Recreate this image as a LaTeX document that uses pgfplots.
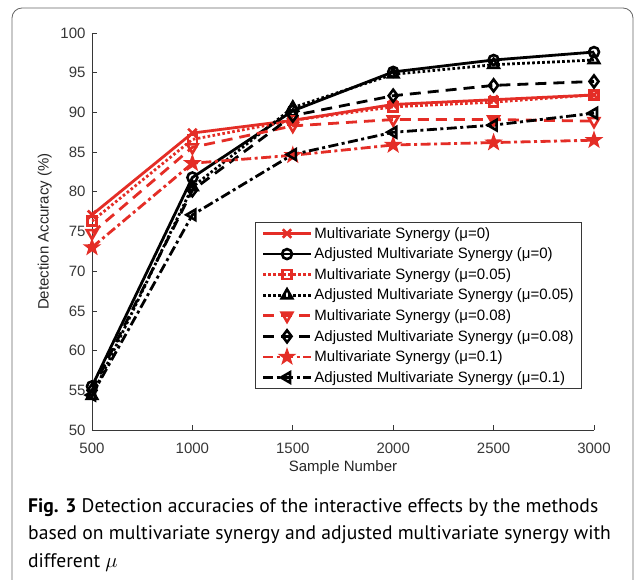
\documentclass[border=0pt]{standalone}
\usepackage{fontspec}
\setmainfont{Liberation Sans}
\newfontfamily\capfont{PT Sans}
\usepackage{pgfplots}
\pgfplotsset{compat=1.18}
\usetikzlibrary{plotmarks}
\definecolor{mred}{RGB}{228,45,38}
\definecolor{axgray}{RGB}{55,55,55}
\pgfdeclareplotmark{pentastar}{%
  \pgfpathmoveto{\pgfpointpolar{90}{1.25\pgfplotmarksize}}%
  \pgfpathlineto{\pgfpointpolar{126}{0.5\pgfplotmarksize}}%
  \pgfpathlineto{\pgfpointpolar{162}{1.25\pgfplotmarksize}}%
  \pgfpathlineto{\pgfpointpolar{198}{0.5\pgfplotmarksize}}%
  \pgfpathlineto{\pgfpointpolar{234}{1.25\pgfplotmarksize}}%
  \pgfpathlineto{\pgfpointpolar{270}{0.5\pgfplotmarksize}}%
  \pgfpathlineto{\pgfpointpolar{306}{1.25\pgfplotmarksize}}%
  \pgfpathlineto{\pgfpointpolar{342}{0.5\pgfplotmarksize}}%
  \pgfpathlineto{\pgfpointpolar{18}{1.25\pgfplotmarksize}}%
  \pgfpathlineto{\pgfpointpolar{54}{0.5\pgfplotmarksize}}%
  \pgfpathclose\pgfusepathqfillstroke}
\begin{document}
\begin{tikzpicture}[x=1pt,y=1pt]
\useasboundingbox (-92,-149) rectangle (545,430);
\draw[black!60, line width=0.8pt, rounded corners=10pt] (-80,-150) -- (-80,422) -- (541,422) -- (541,-150);
\begin{axis}[
  at={(0,0)}, anchor=south west,
  scale only axis, width=502pt, height=397pt,
  xmin=500, xmax=3000, ymin=50, ymax=100,
  xtick={500,1000,1500,2000,2500,3000},
  ytick={50,55,60,65,70,75,80,85,90,95,100},
  axis x line*=bottom, axis y line*=left,
  axis line style={axgray, line width=0.7pt},
  tick style={axgray, line width=0.7pt},
  tick align=inside, major tick length=5pt,
  font=\fontsize{15}{18}\selectfont,
  tick label style={text=axgray, font=\fontsize{15}{18}\selectfont},
  xticklabel style={yshift=-9pt},
  yticklabel style={xshift=-3pt},
  /pgf/number format/assume math mode=true,
  /pgf/number format/1000 sep={},
  xlabel={Sample Number}, ylabel={Detection Accuracy (\%)},
  xlabel style={at={(axis description cs:0.5,-0.095)}, anchor=center, text=black!85},
  ylabel style={at={(axis description cs:-0.094,0.5)}, anchor=center, text=black!85},
  legend style={at={(axis description cs:0.976,0.524)}, anchor=north east, draw=axgray, line width=0.7pt,
    font=\fontsize{15}{18}\selectfont, row sep=4.2pt, inner xsep=6pt, inner ysep=3pt},
  legend cell align=left,
  legend image code/.code={\draw[mark repeat=2,mark phase=2] plot coordinates {(0pt,0pt) (24pt,0pt) (48pt,0pt)};},
  every axis plot/.append style={line width=2.8pt},
]
\addplot[mred, solid, mark=x, mark options={solid, mark size=6pt, line width=2.6pt}] coordinates {(500,77.1)(1000,87.4)(1500,89.0)(2000,91.0)(2500,91.6)(3000,92.2)};
\addlegendentry{Multivariate Synergy (μ=0)}
\addplot[black, solid, mark=o, mark options={solid, mark size=5pt, line width=2.6pt}] coordinates {(500,55.5)(1000,81.8)(1500,90.2)(2000,95.1)(2500,96.6)(3000,97.6)};
\addlegendentry{Adjusted Multivariate Synergy (μ=0)}
\addplot[mred, dash pattern=on 2.6pt off 2.4pt, mark=square, mark options={solid, mark size=4.5pt, line width=2.6pt}] coordinates {(500,76.3)(1000,86.6)(1500,89.0)(2000,90.7)(2500,91.3)(3000,92.2)};
\addlegendentry{Multivariate Synergy (μ=0.05)}
\addplot[black, dash pattern=on 2.6pt off 2.4pt, mark=triangle, mark options={solid, mark size=6pt, line width=2.6pt}] coordinates {(500,54.3)(1000,80.6)(1500,90.6)(2000,94.8)(2500,96.0)(3000,96.6)};
\addlegendentry{Adjusted Multivariate Synergy (μ=0.05)}
\addplot[mred, dash pattern=on 11pt off 7pt, mark=triangle, mark options={solid, rotate=180, mark size=6pt, line width=2.6pt}] coordinates {(500,74.8)(1000,85.6)(1500,88.3)(2000,89.1)(2500,89.1)(3000,88.9)};
\addlegendentry{Multivariate Synergy (μ=0.08)}
\addplot[black, dash pattern=on 11pt off 7pt, mark=diamond, mark options={solid, mark size=6pt, line width=2.6pt}] coordinates {(500,55.0)(1000,80.2)(1500,89.6)(2000,92.1)(2500,93.4)(3000,93.9)};
\addlegendentry{Adjusted Multivariate Synergy (μ=0.08)}
\addplot[mred, dash pattern=on 10pt off 3.5pt on 3pt off 3.5pt, mark=pentastar, mark options={solid, fill=mred, mark size=6pt, line width=1.5pt}] coordinates {(500,73.0)(1000,83.6)(1500,84.6)(2000,85.9)(2500,86.2)(3000,86.5)};
\addlegendentry{Multivariate Synergy (μ=0.1)}
\addplot[black, dash pattern=on 10pt off 3.5pt on 3pt off 3.5pt, mark=triangle, mark options={solid, rotate=90, mark size=6pt, line width=2.6pt}] coordinates {(500,54.4)(1000,77.1)(1500,84.7)(2000,87.5)(2500,88.4)(3000,89.9)};
\addlegendentry{Adjusted Multivariate Synergy (μ=0.1)}
\end{axis}
\node[anchor=north west, align=left, inner sep=0pt, font=\capfont\fontsize{19.6}{27.5}\selectfont] at (-64,-68)
{\textbf{Fig. 3} Detection accuracies of the interactive effects by the methods\\
based on multivariate synergy and adjusted multivariate synergy with\\
different $\mu$};
\end{tikzpicture}
\end{document}
